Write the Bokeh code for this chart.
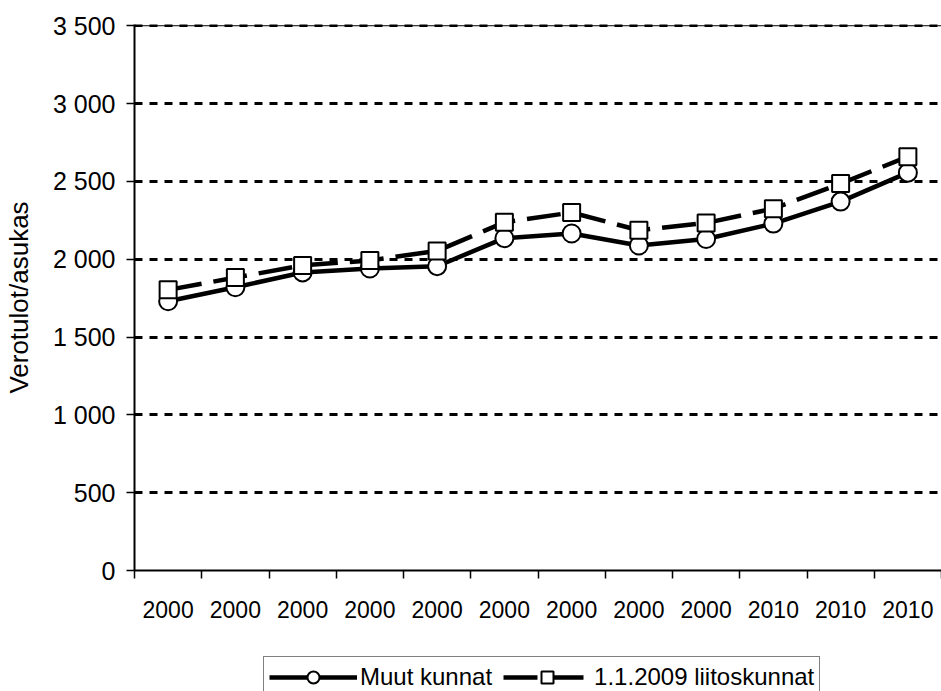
from bokeh.embed import file_html
from bokeh.resources import INLINE
from bokeh.layouts import column
from bokeh.models import FixedTicker, Legend, LegendItem, Range1d, Span
from bokeh.plotting import figure

# kuukausittaiset verotulot / asukas
x_labels = ["2000"] * 9 + ["2010"] * 3
muut = [1730, 1820, 1915, 1940, 1955, 2135, 2165, 2088, 2130, 2229, 2370, 2556]
liitos = [1803, 1882, 1960, 1992, 2053, 2237, 2300, 2186, 2233, 2325, 2486, 2659]
y_ticks = [0, 500, 1000, 1500, 2000, 2500, 3000, 3500]
series = ["Muut kunnat", "1.1.2009 liitoskunnat"]

FONT = "Liberation Sans"
n = len(x_labels)
xs = [i + 0.5 for i in range(n)]

# pieni lisä ylös, jotta 3 500 -viiva ei leikkaudu
p = figure(width=941, height=656, x_range=(0, n), y_range=(0, 3508),
           output_backend="svg", toolbar_location=None,
           min_border_left=134, min_border_right=0,
           min_border_top=24, min_border_bottom=86)
p.outline_line_color = None
p.background_fill_color = "white"

# x-akseli: nimet keskellä, väliviivat kategorioiden rajoilla
p.xaxis.ticker = FixedTicker(ticks=xs, minor_ticks=list(range(n + 1)))
p.xaxis.major_label_overrides = {x: lab for x, lab in zip(xs, x_labels)}
p.xaxis.major_tick_out = 0
p.xaxis.major_tick_in = 0
p.xaxis.minor_tick_out = 8
p.xaxis.minor_tick_in = 0
p.xaxis.minor_tick_line_width = 1.5
p.xaxis.minor_tick_line_color = "black"
p.xaxis.major_label_standoff = 22
p.xaxis.major_label_text_font = FONT
p.xaxis.major_label_text_font_size = "23px"
p.xaxis.major_label_text_color = "black"
p.xaxis.axis_line_width = 2
p.xaxis.axis_line_color = "black"
p.xgrid.grid_line_color = None

p.yaxis.ticker = FixedTicker(ticks=y_ticks, minor_ticks=[])
p.yaxis.major_label_overrides = {v: f"{v:,}".replace(",", " ") for v in y_ticks}
p.yaxis.major_tick_out = 8
p.yaxis.major_tick_in = 0
p.yaxis.major_tick_line_width = 1.5
p.yaxis.major_tick_line_color = "black"
p.yaxis.minor_tick_line_color = None
p.yaxis.major_label_standoff = 11
p.yaxis.major_label_text_font = FONT
p.yaxis.major_label_text_font_size = "25px"
p.yaxis.major_label_text_color = "black"
p.yaxis.axis_line_width = 2
p.yaxis.axis_line_color = "black"
p.yaxis.axis_label = "Verotulot/asukas"
p.yaxis.axis_label_text_font = FONT
p.yaxis.axis_label_text_font_size = "26px"
p.yaxis.axis_label_text_font_style = "normal"
p.yaxis.axis_label_text_color = "black"
p.yaxis.axis_label_standoff = 16

p.ygrid.ticker = FixedTicker(ticks=y_ticks[1:])
p.ygrid.grid_line_color = "black"
p.ygrid.grid_line_width = 2.8
p.ygrid.grid_line_dash = "8 7"
p.add_layout(Span(location=3500, dimension="width", line_color="black", line_width=1))

solid = dict(line_color="black", line_width=4.5, line_join="round")
dashed = dict(line_color="black", line_width=4.5, line_dash="34 12")
circ = dict(marker="circle", fill_color="white", line_color="black", line_width=2)
sq = dict(marker="square", fill_color="white", line_color="black", line_width=2)

p.line(xs, muut, **solid)
p.scatter(xs, muut, size=18, **circ)
p.line(xs, liitos, **dashed)
p.scatter(xs, liitos, size=17, **sq)

# selite omassa kuvassaan kaavion alla (sarjat jäävät näkymän ulkopuolelle)
lg = figure(width=941, height=35, x_range=Range1d(0, n), y_range=Range1d(0, 1),
            output_backend="svg", toolbar_location=None,
            x_axis_type=None, y_axis_type=None,
            min_border_left=134, min_border_right=0, min_border_top=0, min_border_bottom=0)
lg.outline_line_color = None
lg.xgrid.grid_line_color = None
lg.ygrid.grid_line_color = None
a1 = lg.line(xs, muut, **solid)
b1 = lg.scatter(xs, muut, size=18, **circ)
a2 = lg.line(xs, liitos, **dashed)
b2 = lg.scatter(xs, liitos, size=17, **sq)

legend = Legend(items=[LegendItem(label=series[0], renderers=[a1, b1]),
                       LegendItem(label=series[1], renderers=[a2, b2])],
                location=(129, -7), orientation="horizontal")
legend.glyph_width = 88
legend.glyph_height = 30
legend.label_standoff = 3
legend.spacing = 11
legend.padding = 5
legend.margin = 0
legend.border_line_color = "black"
legend.border_line_width = 1
legend.label_text_font = FONT
legend.label_text_font_size = "24px"
legend.label_text_color = "black"
legend.background_fill_color = "white"
lg.add_layout(legend, "center")

page = column(p, lg, spacing=0)
open("out.html", "w").write(file_html(page, INLINE))
